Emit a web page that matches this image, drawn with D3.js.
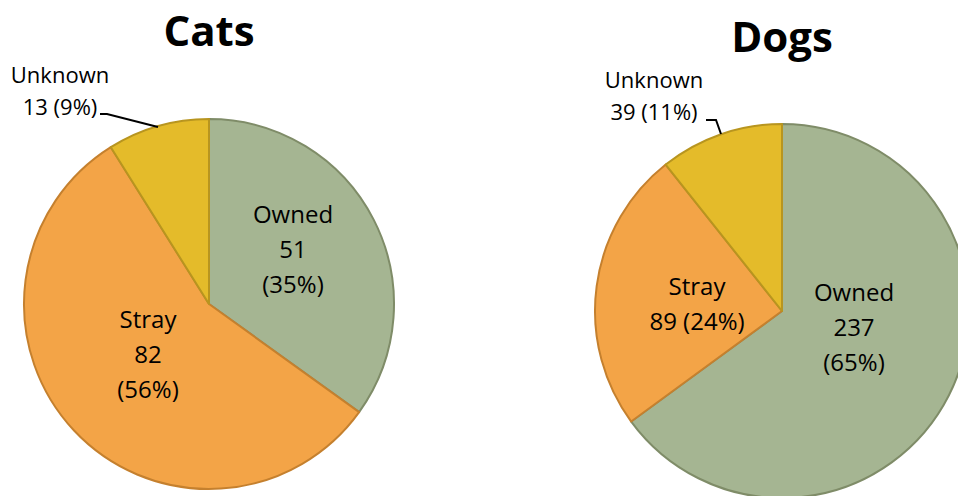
<!DOCTYPE html>
<html><head><meta charset="utf-8">
<script src="https://cdn.jsdelivr.net/npm/d3@7"></script>
<style>body{margin:0;background:#fff}svg{display:block}</style>
</head><body>
<svg id="c" width="958" height="496"></svg>
<script>
const categories = ["Owned", "Stray", "Unknown"];
const catValues = [51, 82, 13];
const dogValues = [237, 89, 39];
const titles = ["Cats", "Dogs"];

const fills = ["#A5B592", "#F3A447", "#E4BB2A"];
const strokes = ["#7F8C68", "#C5802E", "#B8951F"];
const font = "'Open Sans', 'Noto Sans', sans-serif";

const svg = d3.select("#c");

const charts = [
  { title: titles[0], values: catValues, cx: 209, cy: 304, r: 185, ty: 46,
    labels: [
      { x: 84, y: -54, lines: d => [d.cat, String(d.v), `(${d.p}%)`] },
      { x: -61, y: 51, lines: d => [d.cat, String(d.v), `(${d.p}%)`] },
      { x: -149, y: -213, lines: d => [d.cat, `${d.v} (${d.p}%)`], outside: true,
        leader: [[-109, -190], [-102, -190], [-51, -177]] }
    ] },
  { title: titles[1], values: dogValues, cx: 782, cy: 311, r: 187, ty: 52,
    labels: [
      { x: 72, y: 17, lines: d => [d.cat, String(d.v), `(${d.p}%)`] },
      { x: -85, y: -7, lines: d => [d.cat, `${d.v} (${d.p}%)`] },
      { x: -128, y: -215, lines: d => [d.cat, `${d.v} (${d.p}%)`], outside: true,
        leader: [[-76, -191], [-66, -191], [-61, -177]] }
    ] }
];

charts.forEach(ch => {
  const total = d3.sum(ch.values);
  const data = categories.map((c, i) => ({ cat: c, v: ch.values[i], p: Math.round(ch.values[i] / total * 100), i }));
  const pie = d3.pie().value(d => d.v).sort(null);
  const arc = d3.arc().innerRadius(0).outerRadius(ch.r);
  const g = svg.append("g").attr("transform", `translate(${ch.cx},${ch.cy})`);
  const arcs = pie(data);
  g.selectAll("path").data(arcs).join("path")
    .attr("d", arc)
    .attr("fill", d => fills[d.data.i])
    .attr("stroke", d => strokes[d.data.i])
    .attr("stroke-width", 2)
    .attr("stroke-linejoin", "round");

  arcs.forEach((a, k) => {
    const L = ch.labels[k];
    const lines = L.lines(a.data);
    const fs = L.outside ? 22 : 24;
    const lh = L.outside ? 32 : 35;
    const t = g.append("text")
      .attr("text-anchor", "middle")
      .attr("font-family", font)
      .attr("font-size", fs)
      .attr("fill", "#000");
    const y0 = L.y - (lines.length - 1) * lh / 2;
    lines.forEach((ln, j) => {
      t.append("tspan").attr("x", L.x).attr("y", y0 + j * lh).attr("dy", "0.35em").text(ln);
    });
    if (L.leader) {
      g.append("path").attr("d", d3.line()(L.leader))
        .attr("fill", "none").attr("stroke", "#000").attr("stroke-width", 2);
    }
  });

  svg.append("text").attr("x", ch.cx).attr("y", ch.ty)
    .attr("text-anchor", "middle")
    .attr("font-family", font)
    .attr("font-weight", "bold")
    .attr("font-size", 42)
    .text(ch.title);
});
</script>
</body></html>
